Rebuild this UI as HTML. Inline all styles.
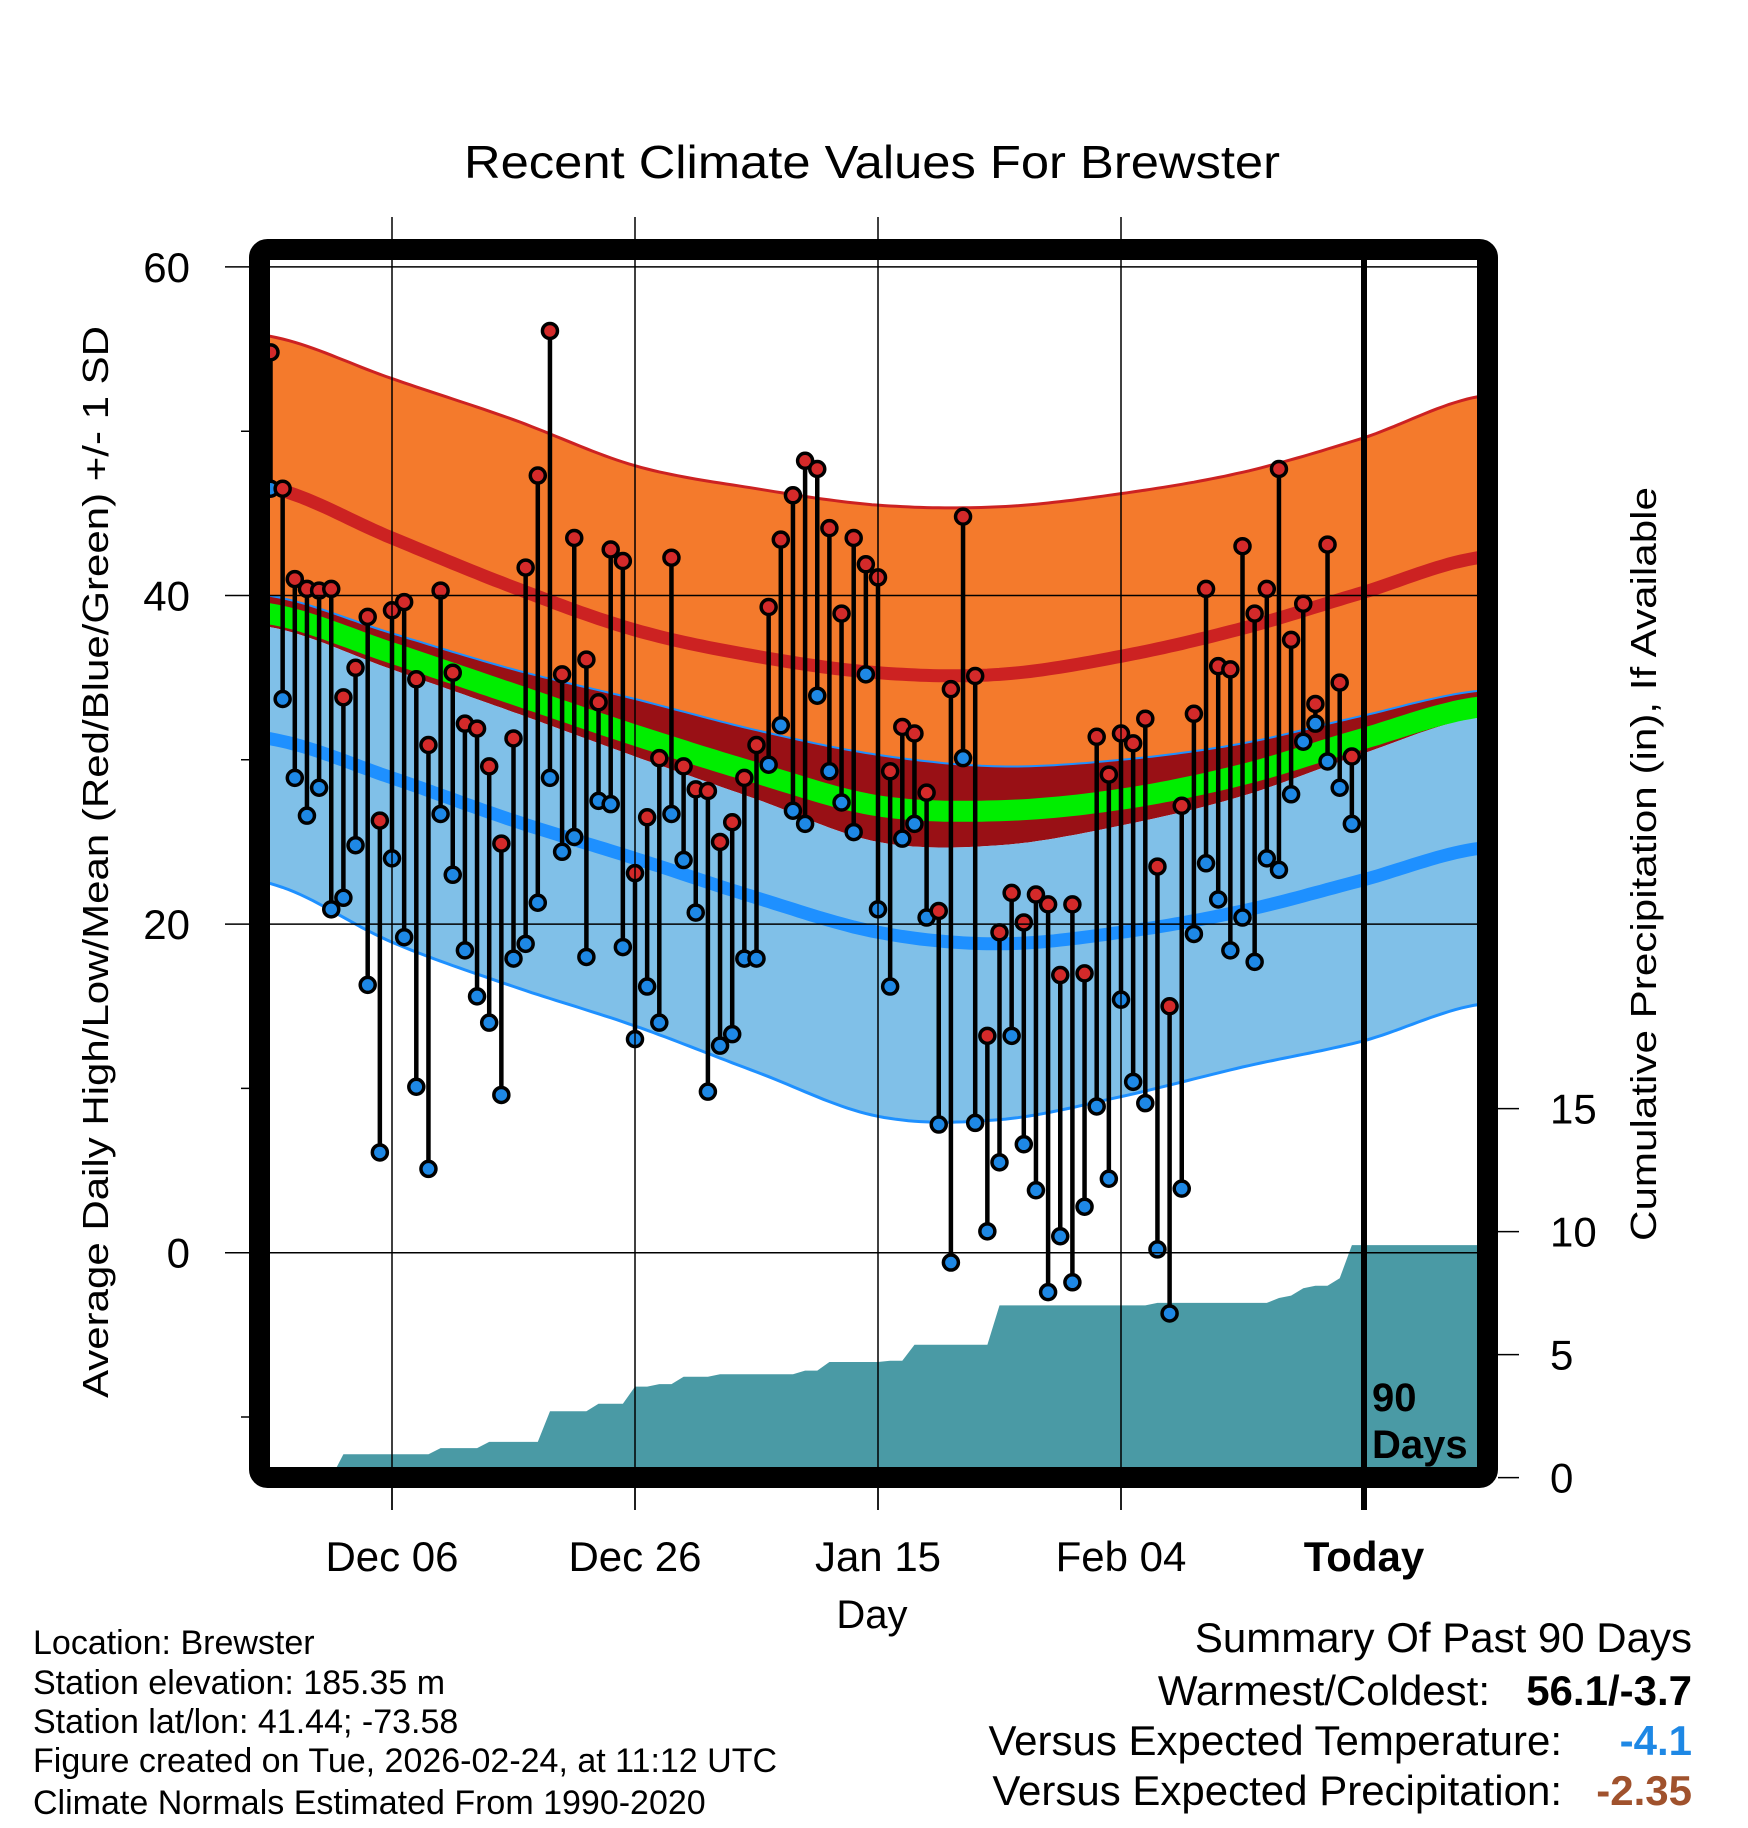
<!DOCTYPE html>
<html><head><meta charset="utf-8"><title>Recent Climate Values For Brewster</title>
<style>
html,body{margin:0;padding:0;background:#fff;}
svg{display:block;font-family:"Liberation Sans",sans-serif;}
</style></head>
<body>
<svg id="chart" xmlns="http://www.w3.org/2000/svg" width="1748" height="1828" viewBox="0 0 1748 1828">
<rect width="1748" height="1828" fill="#fff"/>
<defs><clipPath id="plotclip"><rect x="270" y="260" width="1207" height="1208"/></clipPath></defs>
<g id="grid"></g>
<g id="plot" clip-path="url(#plotclip)"></g>
<g id="overlay"></g>
<text x="872" y="178" font-size="46" text-anchor="middle" textLength="816" lengthAdjust="spacingAndGlyphs">Recent Climate Values For Brewster</text>
<text transform="translate(108,862) rotate(-90)" font-size="36" text-anchor="middle" textLength="1072" lengthAdjust="spacingAndGlyphs">Average Daily High/Low/Mean (Red/Blue/Green) +/- 1 SD</text>
<text transform="translate(1656,864) rotate(-90)" font-size="36" text-anchor="middle" textLength="754" lengthAdjust="spacingAndGlyphs">Cumulative Precipitation (in), If Available</text>
<text x="872" y="1628" font-size="40" text-anchor="middle">Day</text>
<g font-size="34">
<text x="33" y="1654">Location: Brewster</text>
<text x="33" y="1694">Station elevation: 185.35 m</text>
<text x="33" y="1733">Station lat/lon: 41.44; -73.58</text>
<text x="33" y="1772">Figure created on Tue, 2026-02-24, at 11:12 UTC</text>
<text x="33" y="1814">Climate Normals Estimated From 1990-2020</text>
</g>
<g font-size="42">
<text x="1692" y="1652" text-anchor="end">Summary Of Past 90 Days</text>
<text x="1490" y="1705" text-anchor="end">Warmest/Coldest:</text>
<text x="1692" y="1705" text-anchor="end" font-weight="bold">56.1/-3.7</text>
<text x="1562" y="1755" text-anchor="end">Versus Expected Temperature:</text>
<text x="1692" y="1755" text-anchor="end" font-weight="bold" fill="#1e88e5">-4.1</text>
<text x="1562" y="1805" text-anchor="end">Versus Expected Precipitation:</text>
<text x="1692" y="1805" text-anchor="end" font-weight="bold" fill="#a0522d">-2.35</text>
</g>
</svg>
<script>
const dayIndex = Array.from({length:90},(_,i)=>i);
const highs = [54.8,46.5,41.0,40.4,40.3,40.4,33.8,35.6,38.7,26.3,39.1,39.6,34.9,30.9,40.3,35.3,32.2,31.9,29.6,24.9,31.3,41.7,47.3,56.1,35.2,43.5,36.1,33.5,42.8,42.1,23.1,26.5,30.1,42.3,29.6,28.2,28.1,25.0,26.2,28.9,30.9,39.3,43.4,46.1,48.2,47.7,44.1,38.9,43.5,41.9,41.1,29.3,32.0,31.6,28.0,20.8,34.3,44.8,35.1,13.2,19.5,21.9,20.1,21.8,21.2,16.9,21.2,17.0,31.4,29.1,31.6,31.0,32.5,23.5,15.0,27.2,32.8,40.4,35.7,35.5,43.0,38.9,40.4,47.7,37.3,39.5,33.4,43.1,34.7,30.2];
const lows = [46.5,33.7,28.9,26.6,28.3,20.9,21.6,24.8,16.3,6.1,24.0,19.2,10.1,5.1,26.7,23.0,18.4,15.6,14.0,9.6,17.9,18.8,21.3,28.9,24.4,25.3,18.0,27.5,27.3,18.6,13.0,16.2,14.0,26.7,23.9,20.7,9.8,12.6,13.3,17.9,17.9,29.7,32.1,26.9,26.1,33.9,29.3,27.4,25.6,35.2,20.9,16.2,25.2,26.1,20.4,7.8,-0.6,30.1,7.9,1.3,5.5,13.2,6.6,3.8,-2.4,1.0,-1.8,2.8,8.9,4.5,15.4,10.4,9.1,0.2,-3.7,3.9,19.4,23.7,21.5,18.4,20.4,17.7,24.0,23.3,27.9,31.1,32.2,29.9,28.3,26.1];
const precip = [0,0,0,0,0,0,0.95,0.95,0.95,0.95,0.95,0.95,0.95,0.95,1.2,1.2,1.2,1.2,1.45,1.45,1.45,1.45,1.45,2.7,2.7,2.7,2.7,3.0,3.0,3.0,3.7,3.7,3.8,3.8,4.1,4.1,4.1,4.2,4.2,4.2,4.2,4.2,4.2,4.2,4.35,4.35,4.7,4.7,4.7,4.7,4.7,4.75,4.75,5.4,5.4,5.4,5.4,5.4,5.4,5.4,7.0,7.0,7.0,7.0,7.0,7.0,7.0,7.0,7.0,7.0,7.0,7.0,7.0,7.1,7.1,7.1,7.1,7.1,7.1,7.1,7.1,7.1,7.1,7.3,7.4,7.7,7.8,7.8,8.1,9.45];
const normKnotDays = [-0.2,10,20,30,40,50,60,70,80,90,99.4];
const normHighUpper = [55.8,53.2,50.7,47.9,46.5,45.5,45.4,46.2,47.5,49.6,52.1];
const normHighMean = [46.6,43.5,40.5,37.9,36.3,35.3,35.2,36.3,38.0,40.2,42.3];
const normHighLower = [40.0,37.7,35.5,33.7,31.8,30.3,29.6,30.0,31.0,32.7,34.2];
const normMean = [38.9,36.5,34.0,31.5,29.2,27.2,26.9,27.6,29.1,31.3,33.2];
const normLowUpper = [38.1,35.5,32.9,30.2,27.6,25.0,24.8,26.0,27.8,30.4,32.6];
const normLowMean = [31.3,28.9,26.3,24.0,21.6,19.5,18.8,19.5,20.8,22.7,24.6];
const normLowLower = [22.5,18.9,16.2,13.8,11.0,8.3,8.1,9.5,11.3,12.9,15.1];
const yTicks = [60,40,20,0];
const yMinorTicks = [50,30,10,-10];
const pTicks = [0,5,10,15];
const xTickDays = [10,30,50,70,90];
const xTickLabels = ["Dec 06","Dec 26","Jan 15","Feb 04","Today"];

const NS="http://www.w3.org/2000/svg";
const X = d => 270.5 + d*12.15;
const Y = t => 1252.7 - 16.43*t;
const YP = p => 1477.6 - 24.6*p;
function mk(tag, attrs, parent){const e=document.createElementNS(NS,tag);for(const k in attrs)e.setAttribute(k,attrs[k]);parent.appendChild(e);return e;}
function interp(vals, d){
  const k=normKnotDays; let i=0;
  while(i<k.length-2 && d>k[i+1]) i++;
  const p0=vals[Math.max(i-1,0)],p1=vals[i],p2=vals[i+1],p3=vals[Math.min(i+2,vals.length-1)];
  const t=(d-k[i])/(k[i+1]-k[i]);
  const t2=t*t,t3=t2*t;
  return 0.5*((2*p1)+(-p0+p2)*t+(2*p0-5*p1+4*p2-p3)*t2+(-p0+3*p1-3*p2+p3)*t3);
}
function curvePts(vals){const pts=[];for(let d=-0.5; d<=100; d+=0.5)pts.push([X(d),Y(interp(vals,d))]);return pts;}
function ptsStr(p){return p.map(q=>q[0].toFixed(1)+","+q[1].toFixed(1)).join(" ");}
function band(upper, lower, fill, name){
  const a=curvePts(upper), b=curvePts(lower).reverse();
  const el=mk('polygon',{points:ptsStr(a.concat(b)),fill:fill},plot);
  
  
}
function line(vals, color, w, name){
  const el=mk('polyline',{points:ptsStr(curvePts(vals)),fill:'none',stroke:color,'stroke-width':w},plot);
  
  
}
const plot=document.getElementById('plot'), grid=document.getElementById('grid'), overlay=document.getElementById('overlay');

band(normHighUpper, normHighLower, '#f47a2c', 'high-sd-band');
band(normHighLower, normLowUpper, '#991015', 'overlap-band');
band(normLowUpper, normLowLower, '#80c0e8', 'low-sd-band');
line(normHighLower, '#1e90ff', 2, 'high-minus-sd-line');
line(normMean, '#00ee00', 21, 'mean-line');
line(normHighUpper, '#cc2222', 3, 'high-plus-sd-line');
line(normHighMean, '#cc2222', 13, 'mean-high-line');
line(normLowMean, '#1e90ff', 13, 'mean-low-line');
line(normLowLower, '#1e90ff', 3, 'low-minus-sd-line');

for (let i=0;i<4;i++){
  const x=X(xTickDays[i]);
  const g=mk('line',{x1:x,x2:x,y1:217,y2:1510,stroke:'#000','stroke-width':1.5},plot.parentNode);
  
  
}
yTicks.forEach(v=>{
  const y=Y(v);
  const g=mk('line',{x1:225,x2:1477,y1:y,y2:y,stroke:'#000','stroke-width':1.5},plot.parentNode);
  
  
  const t=mk('text',{x:190,y:y+15,'font-size':42,'text-anchor':'end'},overlay);
  t.textContent=v;
  
  
});
yMinorTicks.forEach(v=>{
  const y=Y(v);
  const g=mk('line',{x1:241,x2:260,y1:y,y2:y,stroke:'#000','stroke-width':1.5},overlay);
  
  
});

{
  const pts=[[X(-0.5),YP(0)]];
  precip.forEach((p,i)=>pts.push([X(i),YP(p)]));
  pts.push([1480,YP(precip[precip.length-1])]);
  pts.push([1480,YP(0)+5]);
  pts.push([X(-0.5),YP(0)+5]);
  const a=mk('polygon',{points:ptsStr(pts),fill:'#4a9aa5'},plot);
  
  
}

{
  const x=X(90);
  const l=mk('line',{x1:x,x2:x,y1:255,y2:1510,stroke:'#000','stroke-width':6},overlay);
  
  
  const t1=mk('text',{x:x+8,y:1411,'font-size':40,'font-weight':'bold'},overlay);
  t1.textContent='90';
  
  
  const t2=mk('text',{x:x+8,y:1458,'font-size':40,'font-weight':'bold'},overlay);
  t2.textContent='Days';
  
  
}

const stems=mk('g',{},overlay);


dayIndex.forEach(i=>{
  const s=mk('line',{x1:X(i),x2:X(i),y1:Y(highs[i]),y2:Y(lows[i]),stroke:'#000','stroke-width':4.5},stems);
  
  
});
dayIndex.forEach(i=>{
  const c=mk('circle',{cx:X(i),cy:Y(lows[i]),r:7.5,fill:'#1e88e5',stroke:'#000','stroke-width':3.5},stems);
  
  
});
dayIndex.forEach(i=>{
  const c=mk('circle',{cx:X(i),cy:Y(highs[i]),r:7.5,fill:'#d42a2a',stroke:'#000','stroke-width':3.5},stems);
  
  
});

{
  const f=mk('rect',{x:259.5,y:249.5,width:1228,height:1228,rx:8,fill:'none',stroke:'#000','stroke-width':21},overlay);
  
  
}
xTickDays.forEach((d,i)=>{
  const tk=mk('line',{x1:X(d),x2:X(d),y1:1488,y2:1510,stroke:'#000','stroke-width':1.5},overlay);
  
  
  const t=mk('text',{x:X(d),y:1571,'font-size':42,'text-anchor':'middle'},overlay);
  if (xTickLabels[i]==='Today') t.setAttribute('font-weight','bold');
  t.textContent=xTickLabels[i];
  
  
});
pTicks.forEach(p=>{
  const y=YP(p);
  const tk=mk('line',{x1:1498,x2:1519,y1:y,y2:y,stroke:'#000','stroke-width':1.5},overlay);
  
  
  const t=mk('text',{x:1550,y:y+15,'font-size':42},overlay);
  t.textContent=p;
  
  
});
</script>
</body></html>
